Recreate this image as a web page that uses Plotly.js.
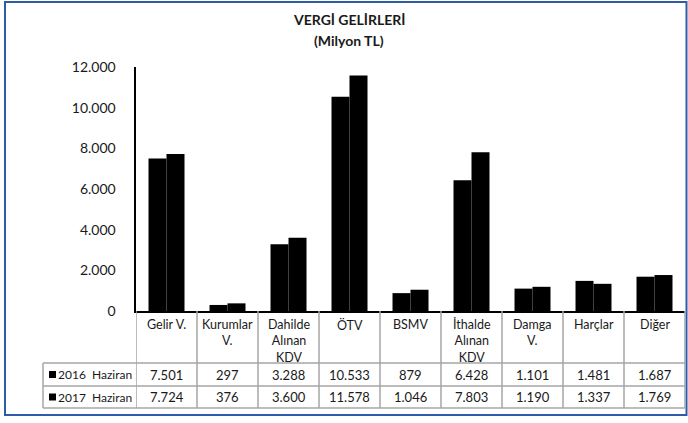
<!DOCTYPE html>
<html>
<head>
<meta charset="utf-8">
<script src="https://cdn.plot.ly/plotly-3.0.1.min.js"></script>
<style>
html,body{margin:0;padding:0;background:#fff;}
#chart{width:688px;height:423px;}
</style>
</head>
<body>
<div id="chart"></div>
<script>
// ---- data ----
const categories = ['Gelir V.', 'Kurumlar<br>V.', 'Dahilde<br>Alınan<br>KDV', 'ÖTV', 'BSMV', 'İthalde<br>Alınan<br>KDV', 'Damga<br>V.', 'Harçlar', 'Diğer'];
const seriesNames = ['2016  Haziran', '2017  Haziran'];
const values2016 = [7501, 297, 3288, 10533, 879, 6428, 1101, 1481, 1687];
const values2017 = [7724, 376, 3600, 11578, 1046, 7803, 1190, 1337, 1769];
const yTickVals = [0, 2000, 4000, 6000, 8000, 10000, 12000];
const yTickText = ['0', '2.000', '4.000', '6.000', '8.000', '10.000', '12.000'];
const titleLines = ['VERGİ GELİRLERİ', '(Milyon TL)'];

// ---- layout geometry ----
const W = 688, H = 423;
const M = {l: 136, r: 3, t: 67, b: 112};
const plotW = W - M.l - M.r, plotH = H - M.t - M.b;
const px = x => (x - M.l) / plotW;          // pixel x -> paper x
const py = y => (H - M.b - y) / plotH;       // pixel y -> paper y
const FONT = 'Lato, "Open Sans", sans-serif';
const TXT = '#1a1a1a';
const GRID = '#a6a6a6';

const fmt = v => String(v).replace(/\B(?=(\d{3})+(?!\d))/g, '.');
const idx = categories.map((c, i) => i);
const series = [values2016, values2017];

const traces = series.map((vals, s) => ({
  type: 'bar',
  x: idx,
  y: vals,
  name: seriesNames[s],
  marker: {color: '#000000', line: {width: 0}},
  hoverinfo: 'x+y'
}));

const shapes = [];
const annotations = [];

// title
titleLines.forEach((t, j) => annotations.push({
  xref: 'paper', yref: 'paper', x: px(349), y: py(19 + 21 * j), text: '<b>' + t + '</b>', showarrow: false,
  xanchor: 'center', yanchor: 'middle', font: {family: FONT, size: 14, color: TXT}
}));

// table horizontal lines
[363, 386, 408].forEach(y => shapes.push({
  type: 'line', xref: 'paper', yref: 'paper', x0: px(43), x1: 1, y0: py(y), y1: py(y),
  line: {color: GRID, width: 1.5}
}));
// table vertical lines (category boundaries)
for (let k = 0; k <= categories.length; k++) {
  shapes.push({
    type: 'line', xref: 'x', yref: 'paper', x0: k - 0.5, x1: k - 0.5, y0: py(311), y1: py(408),
    line: {color: GRID, width: 1.5}
  });
}
shapes.push({
  type: 'line', xref: 'paper', yref: 'paper', x0: px(43), x1: px(43), y0: py(363), y1: py(408),
  line: {color: GRID, width: 1.5}
});

// header labels (category names)
categories.forEach((c, i) => annotations.push({
  xref: 'x', yref: 'paper', x: i, y: py(315), text: c, showarrow: false,
  xanchor: 'center', yanchor: 'top', align: 'center', font: {family: FONT, size: 12.5, color: TXT}
}));
// value rows
const rowY = [374.5, 397];
series.forEach((vals, s) => {
  vals.forEach((v, i) => annotations.push({
    xref: 'x', yref: 'paper', x: i, y: py(rowY[s]), text: fmt(v), showarrow: false,
    xanchor: 'center', yanchor: 'middle', font: {family: FONT, size: 13, color: TXT}
  }));
  // legend key
  shapes.push({
    type: 'rect', xref: 'paper', yref: 'paper', x0: px(49), x1: px(56), y0: py(rowY[s] + 3.5), y1: py(rowY[s] - 3.5),
    fillcolor: traces[s].marker.color, line: {width: 0}
  });
  annotations.push({
    xref: 'paper', yref: 'paper', x: px(56), y: py(rowY[s]), text: seriesNames[s].replace(/ /g, '\u00a0'),
    showarrow: false, xanchor: 'left', yanchor: 'middle', font: {family: FONT, size: 12, color: TXT}
  });
});

// outer blue border
shapes.push({
  type: 'rect', xref: 'paper', yref: 'paper', x0: px(5), x1: px(686.5), y0: py(415), y1: py(2),
  line: {color: '#2f5ba8', width: 2}, fillcolor: 'rgba(0,0,0,0)'
});

const layout = {
  width: W, height: H,
  margin: M,
  paper_bgcolor: '#ffffff', plot_bgcolor: '#ffffff',
  showlegend: false,
  barmode: 'group', bargap: 0.41, bargroupgap: 0,
  xaxis: {
    type: 'linear', range: [-0.5, categories.length - 0.5],
    showticklabels: false, ticks: '', showgrid: false, zeroline: false,
    showline: true, linecolor: '#000', linewidth: 2
  },
  yaxis: {
    range: [0, 12000], tickvals: yTickVals, ticktext: yTickText,
    showgrid: false, zeroline: false, ticks: '', ticklabelstandoff: 15,
    showline: true, linecolor: '#000', linewidth: 2.5,
    tickfont: {family: FONT, size: 14, color: TXT}
  },
  shapes: shapes,
  annotations: annotations
};

Plotly.newPlot('chart', traces, layout, {displayModeBar: false, staticPlot: true});
</script>
</body>
</html>
